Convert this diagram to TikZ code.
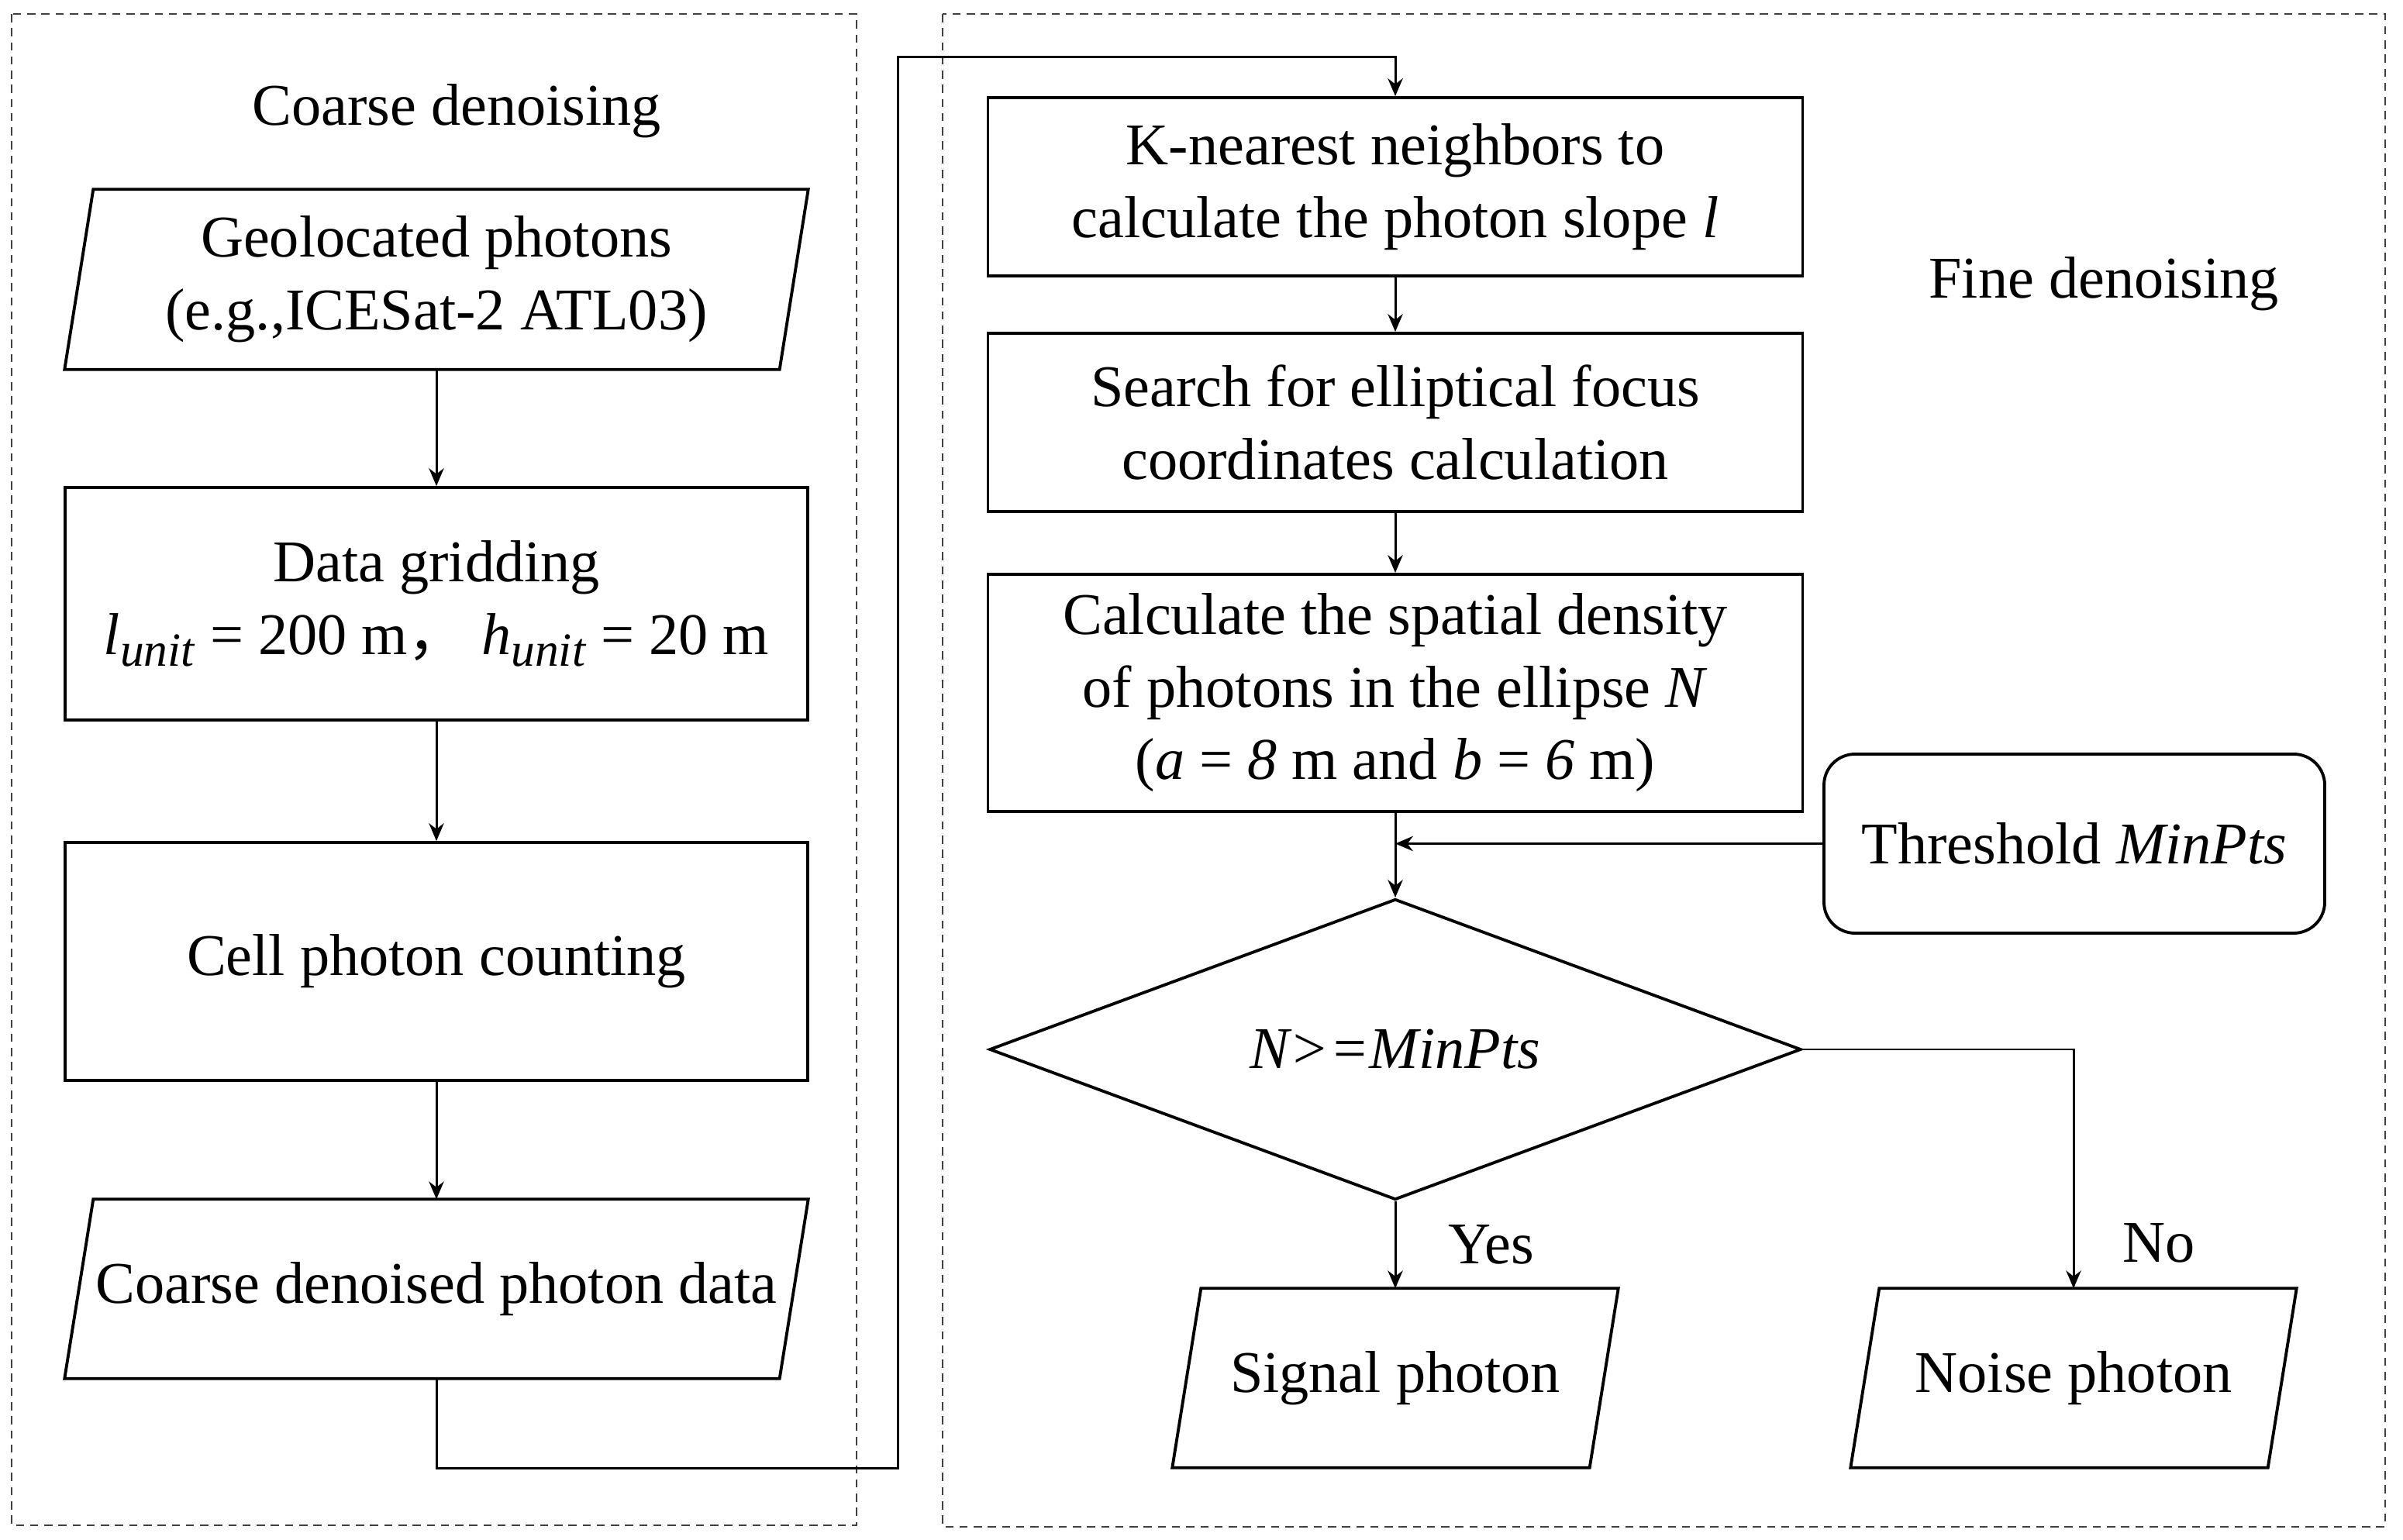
\documentclass[tikz,border=0pt]{standalone}
\usepackage{fontspec}
\setmainfont{Liberation Serif}
\newfontfamily\cjk{Noto Sans CJK SC}
\usepackage{tikz}
\usetikzlibrary{shapes,arrows.meta,positioning}

% lowered index, as in l_unit
\newcommand{\lowidx}[1]{\raisebox{-4.3pt}{\fontsize{17.5}{17.5}\selectfont\textit{#1}}}

\begin{document}
\begin{tikzpicture}[auto,>={Stealth[length=6.5pt,width=5.5pt]},
    every node/.style={font=\fontsize{21.7}{26.6}\selectfont},
    boxline/.style={draw=black,line width=1.1pt},
    process/.style={rectangle,boxline,align=center,inner sep=0pt},
    iobox/.style={rectangle,align=center,inner sep=0pt},
    frame/.style={draw=black!75,line width=0.8pt,dash pattern=on 3pt off 2.2pt},
    flow/.style={->,line width=0.85pt}]
    \useasboundingbox (0,0) rectangle (31,-19.87);

    % dashed frames
    \draw[frame] (0.15,-0.18) rectangle (11.05,-19.68);
    \draw[frame] (12.16,-0.18) rectangle (30.77,-19.70);
    \node (coarsetitle) at (5.89,-1.43) {Coarse denoising};
    \node (finetitle) at (27.14,-3.66) {Fine denoising};

    % coarse denoising column
    \node (geo) [iobox,minimum width=9.58cm,minimum height=2.31cm] at (5.63,-3.605)
      {Geolocated photons\\(e.g.,ICESat-2 ATL03)};
    \node (grid) [process,minimum width=9.58cm,minimum height=3.00cm] at (5.63,-7.79)
      {Data gridding\\\textit{l}\lowidx{unit} = 200 m{\cjk ，} \textit{h}\lowidx{unit} = 20 m};
    \node (count) [process,minimum width=9.58cm,minimum height=3.07cm] at (5.63,-12.405)
      {Cell photon counting};
    \node (coarse) [iobox,minimum width=9.58cm,minimum height=2.30cm] at (5.63,-16.63)
      {Coarse denoised photon data};

    % fine denoising column
    \node (knn) [process,minimum width=10.51cm,minimum height=2.30cm] at (18.0,-2.41)
      {K-nearest neighbors to\\calculate the photon slope \textit{l}};
    \node (search) [process,minimum width=10.51cm,minimum height=2.30cm] at (18.0,-5.45)
      {Search for elliptical focus\\coordinates calculation};
    \node (density) [process,minimum width=10.51cm,minimum height=3.06cm] at (18.0,-8.94)
      {Calculate the spatial density\\of photons in the ellipse \textit{N}\\(\textit{a} = \textit{8} m and \textit{b} = \textit{6} m)};
    \node (thres) [process,rounded corners=0.4cm,minimum width=6.46cm,minimum height=2.31cm] at (26.76,-10.885)
      {Threshold \textit{MinPts}};
    \node (test) [diamond,boxline,inner sep=0pt,aspect=2.7,
      minimum width=10.47cm,minimum height=3.88cm] at (18.0,-13.54) {\textit{N>=MinPts}};
    \node (signal) [iobox,minimum width=5.74cm,minimum height=2.30cm] at (18.0,-17.78)
      {Signal photon};
    \node (noise) [iobox,minimum width=5.74cm,minimum height=2.30cm] at (26.75,-17.78)
      {Noise photon};

    % slanted sides of the data boxes
    \foreach \n in {geo,coarse,signal,noise}
      \draw[boxline] ([xshift=0.37cm]\n.north west) -- (\n.north east)
        -- ([xshift=-0.37cm]\n.south east) -- (\n.south west) -- cycle;

    \coordinate (down) at (11.58,-18.94);
    \coordinate (up) at (11.58,-0.74);

    \draw[flow] (geo) -- (grid);
    \draw[flow] (grid) -- (count);
    \draw[flow] (count) -- (coarse);
    \draw[flow] (coarse.south) |- (down) -- (up) -| (knn.north);
    \draw[flow] (knn) -- (search);
    \draw[flow] (search) -- (density);
    \draw[flow] (density) -- (test);
    \draw[flow] (thres.west) -- (thres.west -| test.north);
    \draw[flow] (test) -- node[right=0.55cm] {Yes} (signal);
    \draw[flow] (test.east) -| node[pos=0.905,right=0.5cm] {No} (noise.north);
  \end{tikzpicture}
\end{document}
